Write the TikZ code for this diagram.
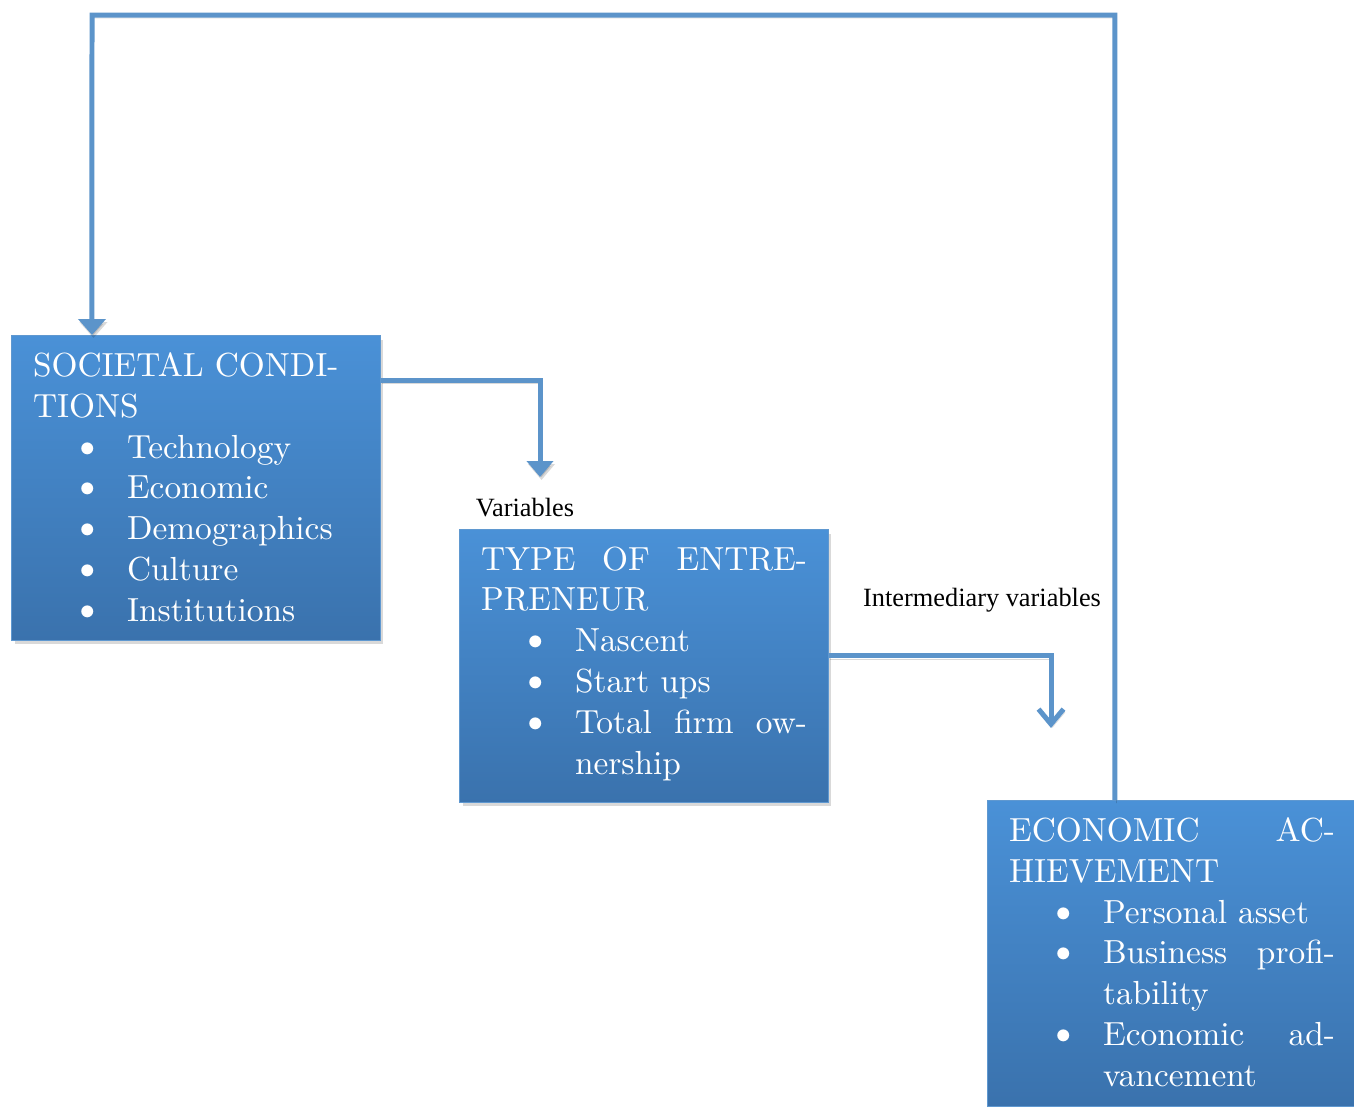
\documentclass[tikz,border=0pt]{standalone}
\usepackage{fontspec}
\newfontfamily\lblfont{Liberation Serif}
\newfontfamily\boxfont{lmroman10-regular.otf}
\usetikzlibrary{arrows.meta,shadows}
\definecolor{boxtop}{RGB}{74,145,215}
\definecolor{boxbot}{RGB}{58,114,173}
\definecolor{boxline}{RGB}{95,152,208}
\definecolor{linkblue}{RGB}{92,148,202}
\tikzset{
  box/.style={rectangle, draw=boxline, line width=0.6pt, top color=boxtop, bottom color=boxbot,
    text=white, inner xsep=0.43cm, inner ysep=0.34cm, anchor=north west,
    drop shadow={opacity=0.3, shadow xshift=0.06cm, shadow yshift=-0.08cm}},
  link/.style={draw=linkblue, line width=0.1cm,
    preaction={draw=black, opacity=0.15, transform canvas={shift={(0.03cm,-0.06cm)}}}},
  lbl/.style={font=\lblfont\fontsize{15pt}{18pt}\selectfont, inner sep=0pt},
}
\newcommand{\boxtext}[2]{\parbox[c][#1][t]{6.52cm}{\boxfont\fontsize{19pt}{23.25pt}\selectfont #2}}
\newcommand{\itm}[1]{\hspace*{0.76cm}\makebox[1.12cm][l]{\scalebox{1.25}{\textbullet}}#1}
\newcommand{\cnt}[1]{\hspace*{1.88cm}#1}
\newcommand{\jst}[2]{\makebox[#1][s]{#2}}
\begin{document}
\begin{tikzpicture}[x=0.02cm,y=-0.02cm]
\useasboundingbox (0,0) rectangle (1354,1106);
% boxes
\node[box] (soc) at (11,335) {\boxtext{5.42cm}{SOCIETAL CONDI-\\TIONS\\
  \itm{Technology}\\\itm{Economic}\\\itm{Demographics}\\\itm{Culture}\\\itm{Institutions}}};
\node[box] (type) at (459,529) {\boxtext{4.78cm}{\jst{6.52cm}{TYPE OF ENTRE-}\\PRENEUR\\
  \itm{Nascent}\\\itm{Start ups}\\\itm{\jst{4.64cm}{Total firm ow-}}\\\cnt{nership}}};
\node[box] (econ) at (987,800) {\boxtext{5.44cm}{\jst{6.52cm}{ECONOMIC AC-}\\HIEVEMENT\\
  \itm{Personal asset}\\\itm{\jst{4.64cm}{Business profi-}}\\\cnt{tability}\\
  \itm{\jst{4.64cm}{Economic ad-}}\\\cnt{vancement}}};
% labels
\node[lbl] (var) at (525,508) {Variables};
\node[lbl] (intvar) at (982,600) {Intermediary variables};
% arrows
\coordinate (loop) at (92,15);
\coordinate (tip1) at (540,477);
\coordinate (tip2) at (1051,728);
\draw[link,-{Triangle[width=0.54cm,length=0.32cm]}] ([xshift=2.56cm]econ.north west) |- (loop) -- ([xshift=1.62cm]soc.north west);
\draw[link,-{Triangle[width=0.52cm,length=0.32cm]}] ([yshift=-0.9cm]soc.north east) -| (tip1);
\draw[link,-{Straight Barb[width=0.5cm,length=0.3cm]}] ([yshift=-2.54cm]type.north east) -| (tip2);
\end{tikzpicture}
\end{document}
